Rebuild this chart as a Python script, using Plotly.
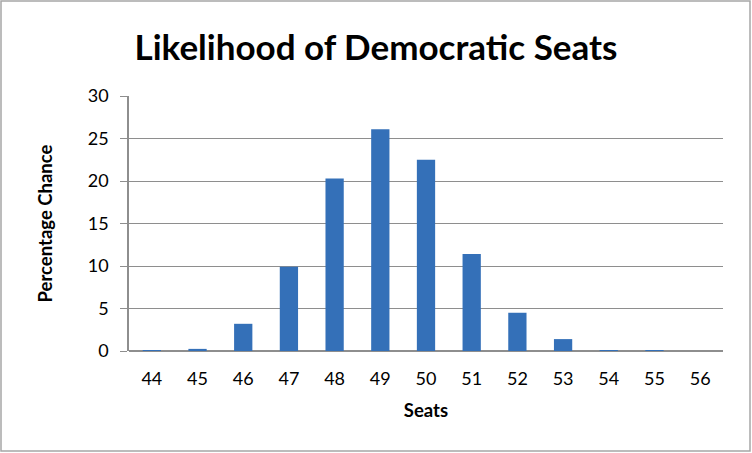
import plotly.graph_objects as go

seats = ["44", "45", "46", "47", "48", "49", "50", "51", "52", "53", "54", "55", "56"]
chance = [0.08, 0.25, 3.2, 9.9, 20.3, 26.1, 22.5, 11.4, 4.5, 1.4, 0.06, 0.06, 0.0]

W, H = 752, 453
L, R, T, B = 129, 29, 96, 102
pw, ph = W - L - R, H - T - B

FONT = "Lato"

fig = go.Figure()
fig.add_trace(go.Bar(
    x=seats, y=chance,
    marker=dict(color="#3470B8", line=dict(width=0)),
    hoverinfo="x+y",
))

fig.update_layout(
    width=W, height=H,
    margin=dict(l=L, r=R, t=T, b=B, pad=0),
    paper_bgcolor="white", plot_bgcolor="white",
    bargap=0.6,
    showlegend=False,
    font=dict(family=FONT, color="black", size=18),
    title=dict(
        text="<b>Likelihood of Democratic Seats</b>",
        font=dict(family=FONT, size=35, color="black"),
        x=376 / W, xref="container", xanchor="center",
        y=1 - 48 / H, yref="container", yanchor="middle",
    ),
    xaxis=dict(
        type="category",
        showgrid=False, zeroline=False,
        showline=False,
        ticks="",
        tickfont=dict(size=18),
        ticklabelstandoff=15,
        title=dict(text="<b>Seats</b>", font=dict(size=18.5), standoff=16),
    ),
    yaxis=dict(
        range=[0, 30], dtick=5,
        showgrid=True, gridcolor="#8E8E8E", gridwidth=1,
        zeroline=True, zerolinecolor="#8E8E8E", zerolinewidth=1.5,
        showline=True, linecolor="#8E8E8E", linewidth=1.5,
        ticks="outside", ticklen=7, tickcolor="#8E8E8E", tickwidth=1,
        tickfont=dict(size=18),
        ticklabelstandoff=8,
        title=dict(text="<b>Percentage Chance</b>", font=dict(size=18.5), standoff=30),
    ),
    shapes=[dict(
        type="rect", xref="paper", yref="paper",
        x0=(1 - L) / pw, x1=(750 - L) / pw,
        y0=(H - T - B - (451 - T)) / ph, y1=(H - T - B - (1 - T)) / ph,
        line=dict(color="#A6A6A6", width=1.5),
        layer="below",
    )],
)

fig.write_html(
    "out.html",
    config={"displayModeBar": False},
    post_script="document.body.style.margin='0';document.body.style.overflow='hidden';",
)
